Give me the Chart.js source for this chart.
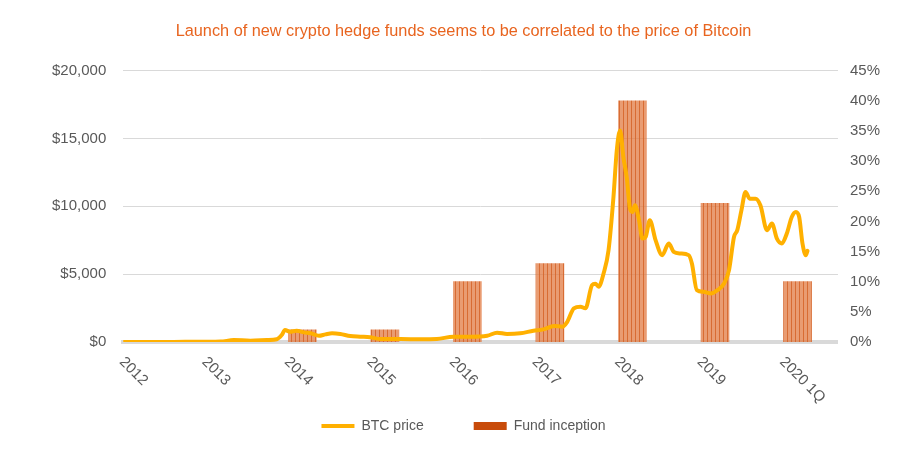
<!DOCTYPE html>
<html>
<head>
<meta charset="utf-8">
<title>Crypto hedge funds vs Bitcoin price</title>
<script src="https://cdn.jsdelivr.net/npm/chart.js@4"></script>
<style>
  html, body { margin: 0; padding: 0; background: #ffffff; }
  #wrap { width: 920px; height: 469px; position: relative; }
</style>
</head>
<body>
<div id="wrap"><canvas id="fundsChart"></canvas></div>
<script>
// x axis years and their labels
const yearTicks = [2012, 2013, 2014, 2015, 2016, 2017, 2018, 2019, 2020]
const yearLabels = ['2012', '2013', '2014', '2015', '2016', '2017', '2018', '2019', '2020 1Q']

// BTC price (USD), time as decimal year
const btcTime = [
  2012.00, 2012.25, 2012.50, 2012.75, 2013.00, 2013.18, 2013.34, 2013.54, 2013.74, 2013.86,
  2013.92, 2013.96, 2014.02, 2014.10, 2014.19, 2014.27, 2014.37, 2014.45, 2014.53, 2014.63,
  2014.75, 2014.87, 2014.99, 2015.12, 2015.24, 2015.36, 2015.60, 2015.80, 2016.00, 2016.20,
  2016.41, 2016.53, 2016.65, 2016.81, 2016.97, 2017.09, 2017.22, 2017.32, 2017.38, 2017.46,
  2017.54, 2017.60, 2017.68, 2017.72, 2017.76, 2017.82, 2017.88, 2017.94, 2017.98, 2018.02,
  2018.06, 2018.10, 2018.14, 2018.17, 2018.20, 2018.25, 2018.29, 2018.33, 2018.38, 2018.45,
  2018.53, 2018.61, 2018.67, 2018.75, 2018.85, 2018.89, 2018.95, 2019.03, 2019.12, 2019.20,
  2019.28, 2019.34, 2019.40, 2019.44, 2019.49, 2019.54, 2019.59, 2019.66, 2019.72, 2019.80,
  2019.86, 2019.92, 2019.98, 2020.04, 2020.10, 2020.15, 2020.19, 2020.23, 2020.27, 2020.29
]
const btcPrice = [
  5, 5, 7, 11, 14, 30, 140, 100, 140, 200,
  510, 880, 760, 830, 710, 640, 460, 560, 640, 590,
  440, 390, 350, 220, 220, 220, 200, 220, 390, 390,
  460, 690, 590, 640, 830, 930, 1180, 1130, 1490, 2480,
  2600, 2480, 4190, 4300, 4070, 5050, 6760, 10690, 14120, 15590,
  13620, 12150, 9830, 9580, 10070, 8970, 7620, 7740, 8970, 7500,
  6400, 7260, 6640, 6520, 6400, 5790, 3820, 3700, 3580, 3820,
  4310, 5290, 7740, 8240, 9700, 11050, 10560, 10560, 10070, 8240,
  8730, 7620, 7260, 7990, 9210, 9580, 9210, 7260, 6400, 6710
]

// Fund inception share (%), one bar per year
const fundTime = [2014.17, 2015.17, 2016.17, 2017.17, 2018.17, 2019.17, 2020.17]
const fundShare = [2, 2, 10, 13, 40, 23, 10]

const font = '"Liberation Sans", Arial, sans-serif'
const textGrey = '#595959'

// striped fill for the bars
const stripe = document.createElement('canvas')
stripe.width = 4
stripe.height = 4
const sctx = stripe.getContext('2d')
sctx.fillStyle = 'rgba(224, 118, 60, 0.72)'
sctx.fillRect(0, 0, 4, 4)
sctx.fillStyle = 'rgba(212, 96, 36, 0.8)'
sctx.fillRect(3, 0, 1, 4)
const barPattern = sctx.createPattern(stripe, 'repeat')

// slanted year labels (text runs down to the right from the tick)
const yearLabelPlugin = {
  id: 'yearLabels',
  afterDraw (chart) {
    const { ctx } = chart
    const x = chart.scales.x
    ctx.save()
    ctx.font = '15px ' + font
    ctx.fillStyle = textGrey
    ctx.textAlign = 'left'
    ctx.textBaseline = 'alphabetic'
    yearTicks.forEach((year, i) => {
      const px = x.getPixelForValue(year)
      ctx.save()
      ctx.translate(px - 4.5, x.top + 20.5)
      ctx.rotate(Math.PI / 4)
      ctx.fillText(yearLabels[i], 0, 0)
      ctx.restore()
    })
    ctx.restore()
  }
}

const ctx = document.getElementById('fundsChart').getContext('2d')
const chart = new Chart(ctx, {
  type: 'line',
  data: {
    datasets: [
      {
        type: 'line',
        label: 'BTC price',
        data: btcTime.map((t, i) => ({ x: t, y: btcPrice[i] })),
        borderColor: '#FFB000',
        backgroundColor: '#FFB000',
        borderWidth: 4,
        pointRadius: 0,
        cubicInterpolationMode: 'monotone',
        borderJoinStyle: 'round',
        borderCapStyle: 'round',
        yAxisID: 'y',
        order: 0
      },
      {
        type: 'bar',
        label: 'Fund inception',
        data: fundTime.map((t, i) => ({ x: t, y: fundShare[i] })),
        backgroundColor: barPattern,
        borderWidth: 0,
        barThickness: 28,
        yAxisID: 'y1',
        order: 1
      }
    ]
  },
  options: {
    responsive: true,
    maintainAspectRatio: false,
    animation: false,
    layout: {
      padding: { left: 35, right: 28, top: 0, bottom: 26 }
    },
    plugins: {
      title: {
        display: true,
        text: 'Launch of new crypto hedge funds seems to be correlated to the price of Bitcoin',
        color: '#E8641F',
        font: { family: font, size: 16.3, weight: 'normal' },
        padding: { top: 22, bottom: 29 }
      },
      legend: {
        position: 'bottom',
        labels: {
          color: textGrey,
          font: { family: font, size: 14 },
          usePointStyle: true,
          pointStyleWidth: 33,
          boxHeight: 8,
          padding: 50,
          generateLabels (chart) {
            return [
              {
                text: 'BTC price',
                pointStyle: 'line',
                strokeStyle: '#FFB000',
                fillStyle: '#FFB000',
                lineWidth: 4,
                fontColor: textGrey,
                datasetIndex: 0
              },
              {
                text: 'Fund inception',
                pointStyle: 'rect',
                strokeStyle: '#C84B0A',
                fillStyle: '#C84B0A',
                lineWidth: 0,
                fontColor: textGrey,
                datasetIndex: 1
              }
            ]
          }
        }
      },
      tooltip: { enabled: false }
    },
    scales: {
      x: {
        type: 'linear',
        min: 2012,
        max: 2020.66,
        offset: false,
        grid: { display: false },
        ticks: { display: false },
        border: { display: true, color: '#D9D9D9', width: 4 },
        afterFit (scale) { scale.height = 27 }
      },
      y: {
        position: 'left',
        min: 0,
        max: 20000,
        grid: { color: '#D9D9D9', drawTicks: false },
        border: { display: false },
        ticks: {
          stepSize: 5000,
          padding: 17,
          color: textGrey,
          font: { family: font, size: 15 },
          callback: (v) => '$' + v.toLocaleString('en-US')
        }
      },
      y1: {
        position: 'right',
        min: 0,
        max: 45,
        grid: { display: false, drawTicks: false },
        border: { display: false },
        ticks: {
          stepSize: 5,
          padding: 12,
          color: textGrey,
          font: { family: font, size: 15 },
          callback: (v) => v + '%'
        }
      }
    }
  },
  plugins: [yearLabelPlugin]
})
</script>
</body>
</html>
